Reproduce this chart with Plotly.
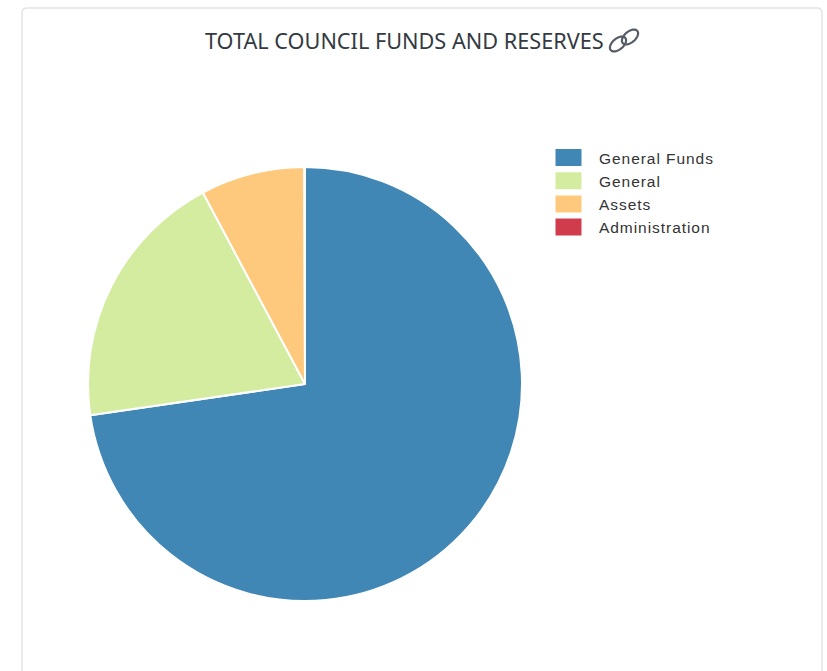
import math
import plotly.graph_objects as go

categories = ["General Funds", "General", "Assets", "Administration"]
values = [72.7, 19.5, 7.75, 0.05]
colors = ["#4187b5", "#d3eca0", "#fec97c", "#d03c4c"]
title_text = "TOTAL COUNCIL FUNDS AND RESERVES"

W, H = 827, 671

def px(x):
    return x / W

def py(y):
    return 1 - y / H

def ellipse_path(cx, cy, a, b, rot, n=40):
    pts = []
    c, s = math.cos(rot), math.sin(rot)
    for i in range(n):
        t = 2 * math.pi * i / n
        x, y = a * math.cos(t), b * math.sin(t)
        pts.append((px(cx + x * c - y * s), py(cy + x * s + y * c)))
    return "M" + "L".join(f"{x:.5f},{y:.5f}" for x, y in pts) + "Z"

card = (
    f"M{px(22)},{py(680)}L{px(22)},{py(13)}Q{px(22)},{py(8)} {px(27)},{py(8)}"
    f"L{px(817)},{py(8)}Q{px(822)},{py(8)} {px(822)},{py(13)}L{px(822)},{py(680)}"
)

shapes = [
    dict(type="path", xref="paper", yref="paper", path=card,
         line=dict(color="#e4e4e4", width=1.5), layer="below"),
    dict(type="path", xref="paper", yref="paper", path=ellipse_path(618, 44, 9.5, 5.5, -0.7),
         line=dict(color="#555c66", width=2.2)),
    dict(type="path", xref="paper", yref="paper", path=ellipse_path(630, 37, 9.5, 5.5, -0.7),
         line=dict(color="#555c66", width=2.2)),
]

fig = go.Figure(go.Pie(
    labels=categories,
    values=values,
    sort=False,
    direction="clockwise",
    rotation=0,
    textinfo="none",
    marker=dict(colors=colors, line=dict(color="#ffffff", width=2)),
    domain=dict(x=[px(88), px(522)], y=[py(602), py(166)]),
))

fig.update_layout(
    width=W,
    height=H,
    margin=dict(l=0, r=0, t=0, b=0),
    paper_bgcolor="#ffffff",
    shapes=shapes,
    showlegend=True,
    legend=dict(
        x=px(548), y=py(141), xanchor="left", yanchor="top",
        itemwidth=41,
        font=dict(family="Liberation Sans", size=15.5, color="#333333"),
        bgcolor="rgba(0,0,0,0)",
    ),
    annotations=[dict(
        text=title_text, xref="paper", yref="paper",
        x=px(404), y=py(40.5), xanchor="center", yanchor="middle",
        showarrow=False,
        font=dict(family="Noto Sans", size=21.7, color="#333a42"),
    )],
)

post = """
document.body.style.margin='0';
document.body.style.overflow='hidden';
var gd = document.getElementById('{plot_id}');
gd.querySelectorAll('.legend .legendtext').forEach(function(t){ t.style.letterSpacing='0.95px'; });
gd.querySelectorAll('.legend path.legendpie').forEach(function(p){ p.setAttribute('d','M9,9.5V-9.5H-19V9.5Z'); });
gd.querySelectorAll('.legend .scrollbox, .legend').forEach(function(g){ g.removeAttribute('clip-path'); g.style.clipPath='none'; });
"""

fig.write_html("out.html", post_script=post, config={"displayModeBar": False})
